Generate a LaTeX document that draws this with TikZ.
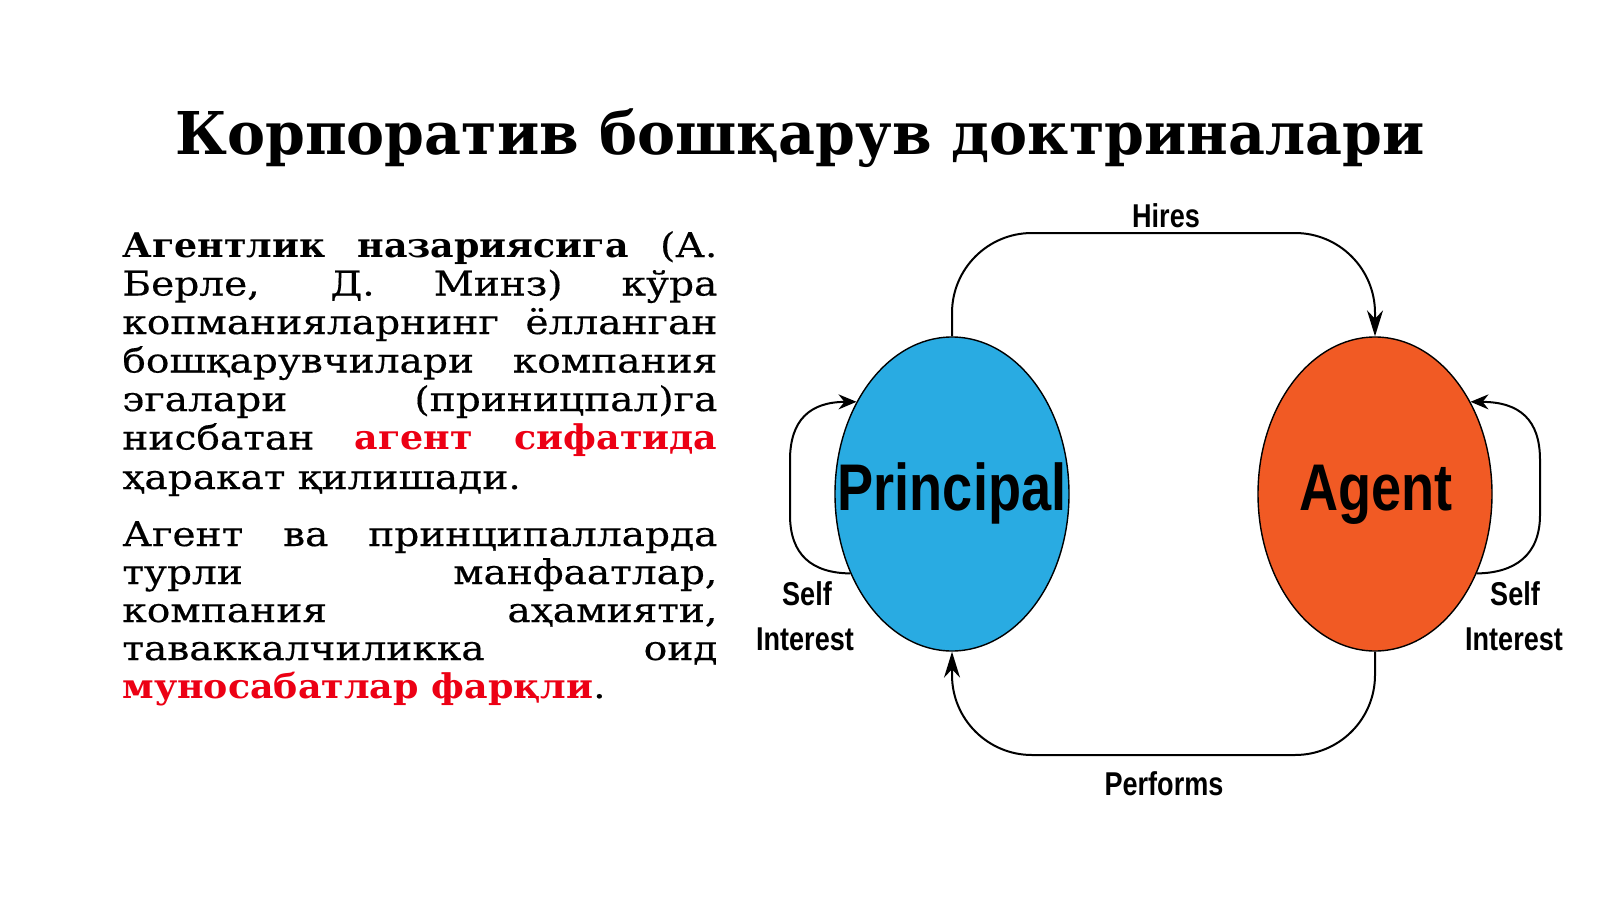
\documentclass[tikz,border=0pt]{standalone}
\usepackage{fontspec}
\setmainfont{DejaVu Serif}[FakeStretch=1.15, UprightFeatures={FakeBold=0.4}, BoldFeatures={FakeStretch=1.07}]
\newfontfamily\titlefont{DejaVu Serif}[FakeStretch=0.967]
\newfontfamily\narrowsans[FakeStretch=0.82]{Liberation Sans}
\usetikzlibrary{shapes.geometric,arrows.meta}
\definecolor{pblue}{RGB}{41,171,226}
\definecolor{aorange}{RGB}{241,90,36}
\definecolor{hired}{RGB}{236,0,20}
\newcommand\jline[1]{\makebox[297.5pt][s]{#1}}
\begin{document}
\begin{tikzpicture}[x=0.5pt,y=-0.5pt,
  blob/.style={ellipse, draw=black, line width=0.7pt, minimum width=117pt, minimum height=157pt, inner sep=0pt},
  biglabel/.style={font=\narrowsans\bfseries\fontsize{33pt}{36pt}\selectfont, anchor=base, inner sep=0pt},
  smalllabel/.style={font=\narrowsans\bfseries\fontsize{16.5pt}{18pt}\selectfont, anchor=base, inner sep=0pt},
  conn/.style={draw=black, line width=1pt, rounded corners=40pt, -{Stealth[length=13pt,width=8pt]}},
  loopc/.style={draw=black, line width=1pt, -{Stealth[length=9pt,width=7.5pt]}},
  bodyline/.style={anchor=base west, inner sep=0pt, font=\fontsize{17pt}{19.25pt}\selectfont},
  titlestyle/.style={anchor=base, inner sep=0pt, font=\titlefont\bfseries\fontsize{29.5pt}{34pt}\selectfont},
]
\fill[white] (0,0) rectangle (1600,899);
\useasboundingbox (0,0) rectangle (1600,899);

\node[titlestyle] (title) at (800,155) {Корпоратив бошқарув доктриналари};

% body text
\node[bodyline] (l1) at (122,257) {\jline{\textbf{Агентлик назариясига} (А.}};
\node[bodyline] (l2) at (122,295.5) {\jline{Берле, Д. Минз) кўра}};
\node[bodyline] (l3) at (122,334) {\jline{копманияларнинг ёлланган}};
\node[bodyline] (l4) at (122,372.5) {\jline{бошқарувчилари компания}};
\node[bodyline] (l5) at (122,411) {\jline{эгалари (приницпал)га}};
\node[bodyline] (l6) at (122,449.5) {\jline{нисбатан \textcolor{hired}{\textbf{агент сифатида}}}};
\node[bodyline] (l7) at (122,489) {ҳаракат қилишади.};
\node[bodyline] (m1) at (122,546) {\jline{Агент ва принципалларда}};
\node[bodyline] (m2) at (122,584) {\jline{турли манфаатлар,}};
\node[bodyline] (m3) at (122,622) {\jline{компания аҳамияти,}};
\node[bodyline] (m4) at (122,660) {\jline{таваккалчиликка оид}};
\node[bodyline] (m5) at (122,698) {\textcolor{hired}{\textbf{муносабатлар фарқли}}.};

% diagram
\node[blob, fill=pblue] (P) at (952,494) {};
\node[blob, fill=aorange] (A) at (1375,494) {};
\node[biglabel] (Pl) at (952,510) {Principal};
\node[biglabel] (Al) at (1376,510) {Agent};

\draw[conn] (P.north) |- (1166,233) -| (A.north);
\draw[conn] (A.south) |- (1166,755) -| (P.south);

\draw[loopc] (P.218) .. controls (812,573) and (790,555) .. (790,515) -- (790,460) .. controls (790,420) and (810,402) .. (P.136);
\draw[loopc] (A.322) .. controls (1515,573) and (1540,555) .. (1540,515) -- (1540,460) .. controls (1540,420) and (1520,402) .. (A.44);

\node[smalllabel] (hires) at (1166,227) {Hires};
\node[smalllabel] (perf) at (1164,795) {Performs};
\node[smalllabel] (ls1) at (807,605) {Self};
\node[smalllabel] (ls2) at (805,650) {Interest};
\node[smalllabel] (rs1) at (1515,605) {Self};
\node[smalllabel] (rs2) at (1514,650) {Interest};
\end{tikzpicture}
\end{document}
